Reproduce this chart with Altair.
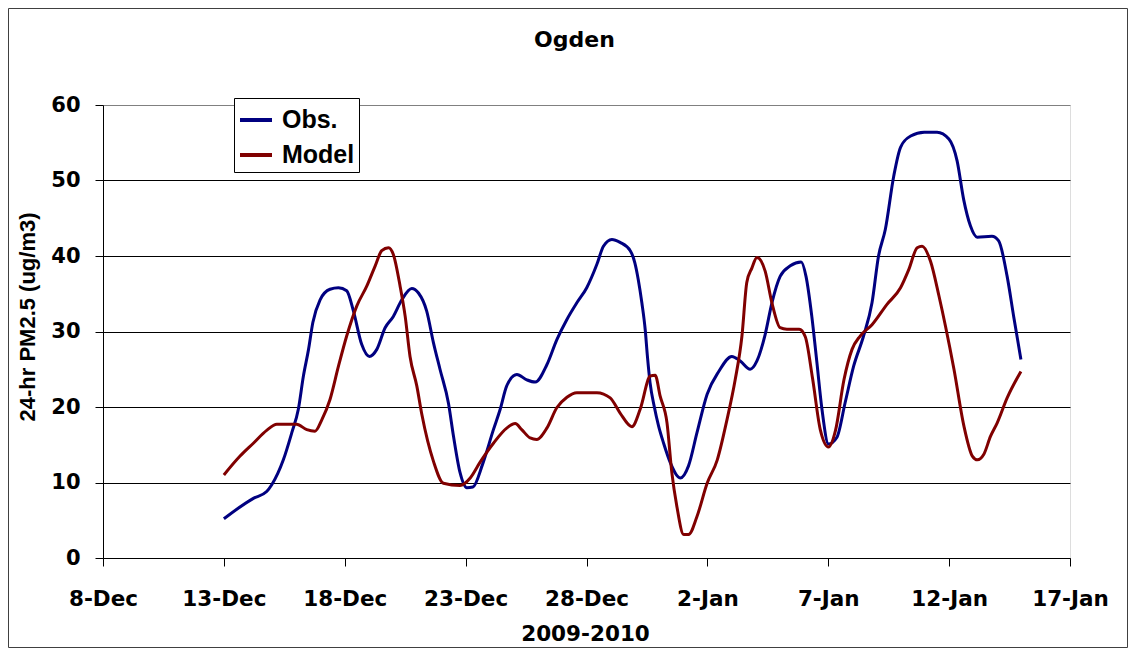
import altair as alt
import pandas as pd

# Days since 8-Dec-2009 (00:00) and 24-hr PM2.5 (ug/m3)
obs_day = [5.0, 6.22, 6.77, 6.98, 7.46, 7.81, 8.08, 8.29, 8.5, 8.68, 8.98, 9.39, 9.74, 10.08,
           10.36, 10.70, 11.02, 11.32, 11.67, 12.01, 12.36, 12.77, 13.05, 13.39, 13.67, 13.94,
           14.29, 14.5, 14.77, 15.05, 15.3, 15.7, 16.15, 16.43, 16.70, 17.12, 17.53, 17.88,
           18.36, 18.77, 19.19, 19.6, 20.01, 20.43, 20.7, 21.05, 21.39, 21.81, 22.0, 22.14,
           22.29, 22.43, 22.52, 22.63, 22.80, 22.98, 23.19, 23.47, 23.88, 24.22, 24.57, 24.99,
           25.47, 26.01, 26.36, 26.77, 27.05, 27.39, 27.67, 28.01, 28.43, 28.88, 29.08, 29.32,
           29.53, 29.74, 30.01, 30.36, 30.7, 31.05, 31.46, 31.81, 32.08, 32.36, 32.71, 32.99,
           33.41, 33.97, 34.5, 34.99, 35.33, 35.6, 35.88, 36.16, 36.77, 37.05, 37.4, 37.67, 37.97]
obs_val = [5.2, 7.9, 8.8, 9.7, 13.0, 16.6, 19.7, 24.1, 27.6, 31.2, 34.2, 35.6, 35.8, 35.4,
           32.7, 28.3, 26.7, 27.6, 30.5, 32.0, 34.2, 35.7, 35.1, 32.7, 28.5, 25.0,
           20.5, 16.1, 11.3, 9.3, 9.4, 12.4, 17.0, 19.7, 22.8, 24.3, 23.6, 23.3,
           25.6, 28.9, 31.6, 33.8, 35.8, 38.9, 41.3, 42.2, 41.8, 40.7, 39.1, 36.9,
           33.8, 30.2, 26.7, 23.2, 20.1, 17.5, 15.2, 12.6, 10.6, 12.2, 16.6, 21.7,
           24.7, 26.7, 26.1, 25.0, 26.1, 29.6, 33.8, 37.3, 38.7, 39.2, 37.3, 32.0,
           25.9, 19.7, 15.1, 16.0, 20.6, 25.4, 29.4, 33.8, 40.0, 43.5, 50.6, 54.4,
           55.9, 56.4, 56.4, 55.5, 52.6, 47.5, 44.0, 42.5, 42.6, 42.0, 37.3, 32.0, 26.3]

model_day = [5.0, 5.67, 6.22, 6.77, 7.19, 8.01, 8.43, 8.77, 9.05, 9.39, 9.74, 10.08, 10.5,
             10.91, 11.26, 11.53, 11.81, 12.01, 12.29, 12.50, 12.70, 12.98, 13.19, 13.67,
             14.08, 14.77, 15.19, 15.6, 16.15, 16.70, 17.05, 17.32, 17.67, 17.94, 18.36,
             18.77, 19.19, 19.6, 20.43, 20.98, 21.39, 21.88, 22.22, 22.64, 22.84, 23.05,
             23.33, 23.53, 23.74, 24.02, 24.22, 24.57, 24.99, 25.41, 25.81, 26.15, 26.43,
             26.63, 26.84, 27.05, 27.39, 27.67, 28.01, 28.29, 28.8, 29.05, 29.35, 29.67,
             30.01, 30.3, 30.65, 30.98, 31.32, 31.81, 32.43, 32.99, 33.33, 33.68, 33.88,
             34.23, 34.58, 34.85, 35.2, 35.61, 35.96, 36.17, 36.43, 36.71, 36.99, 37.4, 37.97]
model_val = [11.0, 13.5, 15.2, 16.9, 17.7, 17.7, 17.0, 16.8, 18.3, 21.0, 25.4, 29.4, 33.4,
             36.0, 38.7, 40.7, 41.1, 40.2, 36.0, 32.0, 26.7, 22.8, 19.0, 12.8,
             9.9, 9.6, 10.6, 12.7, 15.2, 17.2, 17.8, 17.0, 15.9, 15.7, 17.2,
             19.9, 21.3, 21.9, 21.9, 21.2, 19.2, 17.4, 19.7, 24.1, 24.2, 21.4,
             17.9, 11.3, 6.8, 3.1, 3.1, 5.5, 9.9, 13.0, 18.3, 23.6, 29.4,
             36.5, 38.4, 39.8, 38.0, 33.8, 30.5, 30.3, 30.3, 29.3, 23.8, 17.0,
             14.7, 16.9, 23.6, 27.6, 29.4, 30.9, 33.6, 35.8, 38.2, 41.1, 41.3,
             39.3, 34.7, 30.7, 25.0, 17.5, 13.5, 13.0, 13.7, 16.1, 17.9, 21.2, 24.7]

series_names = ["Obs.", "Model"]
series_colors = ["#000080", "#800000"]
x_ticks = [0, 5, 10, 15, 20, 25, 30, 35, 40]
y_ticks = [0, 10, 20, 30, 40, 50, 60]
base_ms = 1260230400000  # 2009-12-08 00:00 UTC

df = pd.concat([
    pd.DataFrame({"day": obs_day, "pm": obs_val, "series": series_names[0], "order": 0}),
    pd.DataFrame({"day": model_day, "pm": model_val, "series": series_names[1], "order": 1}),
], ignore_index=True)

W, H = 967, 453
PAD = {"left": 95, "top": 97, "right": 58, "bottom": 90}

lines = alt.Chart(df).mark_line(strokeWidth=3, interpolate="monotone").encode(
    x=alt.X("day:Q",
            scale=alt.Scale(domain=[0, 40], nice=False, zero=False),
            axis=alt.Axis(values=x_ticks, grid=False, tickSize=8, tickColor="black",
                          domainColor="black", labelColor="black",
                          labelExpr=f"utcFormat(datum.value*86400000 + {base_ms}, '%-d-%b')",
                          labelFont="DejaVu Sans", labelFontSize=21.5, labelFontWeight="bold",
                          labelBaseline="alphabetic", labelPadding=39, labelFlush=False,
                          labelOverlap=False,
                          title="2009-2010", titleFont="DejaVu Sans", titleFontSize=21.5,
                          titleFontWeight="bold", titleColor="black",
                          titleBaseline="alphabetic", titleX=482, titleY=82, titleAlign="center")),
    y=alt.Y("pm:Q",
            scale=alt.Scale(domain=[0, 60], nice=False),
            axis=alt.Axis(values=y_ticks, grid=True, gridColor={"condition": {"test": "datum.value === 60", "value": "#808080"}, "value": "black"},
                          gridWidth=1, tickSize=8, tickColor="black", domainColor="black",
                          labelColor="black", labelFont="DejaVu Sans", labelFontSize=21,
                          labelFontWeight="bold", labelPadding=15, labelFlush=False,
                          title="24-hr PM2.5 (ug/m3)", titleFont="Liberation Sans",
                          titleFontSize=22, titleFontWeight="bold", titleColor="black",
                          titleAngle=270, titleBaseline="alphabetic", titleAlign="center",
                          titleX=-69, titleY=211.5)),
    color=alt.Color("series:N",
                    scale=alt.Scale(domain=series_names, range=series_colors),
                    legend=alt.Legend(title=None, orient="none", legendX=131, legendY=-7,
                                      strokeColor="black", fillColor="white", padding=4,
                                      symbolType="stroke", symbolSize=1024, symbolStrokeWidth=4,
                                      labelFont="Liberation Sans", labelFontSize=25,
                                      labelFontWeight="bold", labelColor="black",
                                      labelOffset=8, rowPadding=4)),
    order="order:Q",
    detail="series:N",
)

border = alt.Chart(pd.DataFrame({"k": [0]})).mark_rect(filled=False, stroke="#404040", strokeWidth=1).encode(
    x=alt.value(-94.5), x2=alt.value(W + PAD["right"] - 0.5),
    y=alt.value(-96.5), y2=alt.value(H + PAD["bottom"] - 0.5),
)

chart = alt.layer(border, lines).properties(
    width=W, height=H,
    padding=PAD,
    autosize=alt.AutoSizeParams(type="none"),
    title=alt.TitleParams("Ogden", font="DejaVu Sans", fontSize=22, fontWeight="bold",
                          color="black", anchor="middle", frame="group", dx=-12,
                          baseline="alphabetic", offset=0, dy=61),
).configure_view(stroke="#808080", strokeWidth=1).configure(background="white")

chart.save("out.html", embed_options={"renderer": "svg", "actions": False})
